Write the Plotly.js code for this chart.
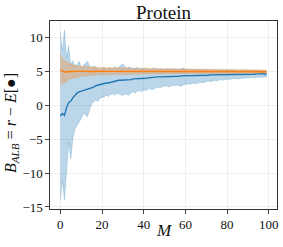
<!DOCTYPE html>
<html><head><meta charset="utf-8">
<script src="https://cdn.plot.ly/plotly-3.0.1.min.js"></script>
<style>html,body{margin:0;padding:0;background:#fff}#g{width:283px;height:247px}</style>
</head><body><div id="g"></div>
<script>
const M = [0,1,2,3,4,5,6,7,8,9,10,11,12,13,14,15,16,17,18,19,20,21,22,23,24,25,26,27,28,29,30,31,32,33,34,35,36,37,38,39,40,41,42,43,44,45,46,47,48,49,50,51,52,53,54,55,56,57,58,59,60,61,62,63,64,65,66,67,68,69,70,71,72,73,74,75,76,77,78,79,80,81,82,83,84,85,86,87,88,89,90,91,92,93,94,95,96,97,98,99];

const blueMean = [-1.6,-1.2,-1.5,-0.3,0.4,0.6,1.1,1.5,1.8,2.0,
2.1,2.2,2.3,2.3,2.4,2.5,2.7,2.9,3.0,3.1,
3.2,3.2,3.3,3.3,3.4,3.5,3.5,3.6,3.7,3.7,
3.7,3.8,3.8,3.8,3.8,3.9,3.9,3.9,4.0,4.0,
4.0,4.0,4.05,4.1,4.1,4.15,4.15,4.2,4.2,4.2,
4.2,4.25,4.25,4.25,4.3,4.3,4.3,4.3,4.35,4.35,
4.35,4.35,4.4,4.4,4.4,4.4,4.4,4.45,4.45,4.45,
4.45,4.45,4.5,4.5,4.5,4.5,4.5,4.5,4.55,4.55,
4.55,4.55,4.55,4.55,4.6,4.6,4.6,4.6,4.6,4.6,
4.6,4.6,4.6,4.6,4.65,4.6,4.65,4.7,4.65,4.55];

const blueUpper = [10.8,8.0,11.1,7.0,8.8,6.0,6.6,5.8,6.0,6.5,
5.6,5.8,6.2,6.5,5.8,5.5,5.8,5.6,5.5,5.4,
5.5,5.6,5.4,5.5,5.6,5.4,5.7,5.5,5.6,5.9,
6.1,5.7,5.5,5.7,5.5,5.4,5.5,5.6,5.4,5.5,
5.4,5.5,5.4,5.3,5.4,5.5,5.4,5.3,5.4,5.3,
5.3,5.4,5.3,5.3,5.4,5.3,5.3,5.3,5.4,5.5,
5.3,5.3,5.2,5.3,5.3,5.2,5.3,5.2,5.2,5.3,
5.2,5.2,5.2,5.3,5.2,5.2,5.2,5.2,5.2,5.2,
5.2,5.3,5.2,5.2,5.2,5.1,5.2,5.2,5.2,5.1,
5.2,5.1,5.2,5.2,5.1,5.2,5.1,5.2,5.1,5.1];

const blueLower = [-13.9,-11.0,-14.0,-9.0,-5.4,-7.9,-5.0,-3.5,-3.0,-2.5,
-2.0,-1.2,-1.3,-1.7,-0.6,0.2,0.5,0.8,0.6,1.1,
1.2,1.2,1.5,1.3,1.6,1.7,1.5,1.8,1.7,1.5,
1.4,1.7,1.6,1.5,1.9,2.0,1.8,2.1,2.2,2.0,
2.3,2.2,2.4,2.5,2.3,2.5,2.6,2.7,2.6,2.8,
2.8,2.9,2.7,2.9,3.0,2.9,3.0,2.9,2.8,3.0,
3.1,3.2,3.1,3.2,3.3,3.2,3.3,3.4,3.3,3.4,
3.5,3.6,3.5,3.6,3.7,3.6,3.7,3.8,3.7,3.8,
3.9,3.8,3.9,3.9,4.0,3.9,3.9,4.0,4.0,4.1,
4.0,4.1,4.1,4.0,4.1,4.2,4.1,4.2,4.2,4.2];

const orangeMean = [5.25,5.1,4.9,4.95,5.0,5.0,5.0,5.02,5.0,5.0,
5.01,5.0,5.02,5.01,5.0,5.02,5.03,5.02,5.02,5.03,
5.03,5.04,5.03,5.03,5.04,5.04,5.03,5.04,5.04,5.04,
5.04,5.04,5.03,5.04,5.04,5.03,5.03,5.04,5.03,5.03,
5.03,5.03,5.02,5.03,5.03,5.02,5.02,5.02,5.02,5.02,
5.02,5.02,5.02,5.01,5.02,5.02,5.01,5.01,5.01,5.01,
5.01,5.0,5.0,5.0,5.0,5.0,5.0,5.0,5.0,5.0,
4.99,4.99,4.99,4.99,4.99,4.99,4.99,4.99,4.99,4.99,
4.98,4.98,4.98,4.98,4.98,4.98,4.98,4.98,4.98,4.98,
4.97,4.97,4.97,4.97,4.97,4.97,4.97,4.97,4.97,4.97];

const orangeUpper = [7.6,6.9,6.6,6.4,6.2,6.1,6.0,5.9,5.85,5.8,
5.75,5.75,5.7,5.7,5.7,5.65,5.65,5.65,5.6,5.6,
5.6,5.6,5.55,5.55,5.55,5.55,5.5,5.5,5.5,5.5,
5.5,5.5,5.48,5.48,5.47,5.47,5.46,5.46,5.45,5.45,
5.45,5.44,5.44,5.43,5.43,5.42,5.42,5.42,5.41,5.41,
5.4,5.4,5.4,5.4,5.39,5.39,5.39,5.39,5.38,5.38,
5.38,5.37,5.37,5.37,5.36,5.36,5.36,5.35,5.35,5.35,
5.34,5.34,5.33,5.33,5.32,5.32,5.31,5.31,5.3,5.3,
5.3,5.3,5.29,5.29,5.29,5.28,5.28,5.28,5.27,5.27,
5.26,5.26,5.25,5.25,5.25,5.24,5.24,5.24,5.23,5.23];

const orangeLower = [2.9,3.3,3.3,3.6,3.8,3.9,4.0,4.1,4.2,4.3,
4.3,4.35,4.35,4.4,4.4,4.45,4.45,4.5,4.5,4.5,
4.5,4.52,4.52,4.53,4.54,4.55,4.55,4.56,4.56,4.57,
4.57,4.58,4.58,4.59,4.59,4.6,4.6,4.6,4.61,4.61,
4.62,4.62,4.62,4.63,4.63,4.63,4.64,4.64,4.64,4.65,
4.65,4.65,4.65,4.65,4.65,4.66,4.66,4.66,4.66,4.66,
4.66,4.66,4.67,4.67,4.67,4.67,4.67,4.68,4.68,4.68,
4.68,4.68,4.69,4.69,4.69,4.69,4.7,4.7,4.7,4.7,
4.7,4.7,4.71,4.71,4.71,4.71,4.71,4.72,4.72,4.72,
4.72,4.72,4.73,4.73,4.73,4.73,4.74,4.74,4.74,4.74];

const xTicks = [0,20,40,60,80,100];
const yTicks = [-15,-10,-5,0,5,10];
const titleText = 'Protein';
const xTitle = '<i>M</i>';
const yTitle = '<i>B</i><sub><i>ALB</i></sub> = <i>r</i> − <i>E</i>[●]';

const BLUE = '#1f77b4', ORANGE = '#ff7f0e';
const BFILL = 'rgba(31,119,180,0.3)', OFILL = 'rgba(255,127,14,0.3)';

const traces = [
  {x:M, y:blueLower, type:'scatter', mode:'lines', line:{width:0.6, color:'rgba(31,119,180,0.35)'}, hoverinfo:'skip', showlegend:false},
  {x:M, y:blueUpper, type:'scatter', mode:'lines', fill:'tonexty', fillcolor:BFILL, line:{width:0.6, color:'rgba(31,119,180,0.35)'}, hoverinfo:'skip', showlegend:false},
  {x:M, y:blueMean, type:'scatter', mode:'lines', line:{width:1.4, color:BLUE}, showlegend:false},
  {x:M, y:orangeLower, type:'scatter', mode:'lines', line:{width:0.6, color:'rgba(255,127,14,0.35)'}, hoverinfo:'skip', showlegend:false},
  {x:M, y:orangeUpper, type:'scatter', mode:'lines', fill:'tonexty', fillcolor:OFILL, line:{width:0.6, color:'rgba(255,127,14,0.35)'}, hoverinfo:'skip', showlegend:false},
  {x:M, y:orangeMean, type:'scatter', mode:'lines', line:{width:1.4, color:ORANGE}, showlegend:false}
];

const FONT = '"Liberation Serif", serif';
const axisCommon = {
  showline:true, linecolor:'#333', linewidth:1.1, mirror:true,
  showgrid:true, gridcolor:'#ebebeb', gridwidth:0.8,
  zeroline:false, ticks:'outside', ticklen:3.5, tickwidth:0.9, tickcolor:'#333',
  tickfont:{family:FONT, size:13, color:'#111'}
};

const layout = {
  width:283, height:247,
  margin:{l:50, r:6, t:21, b:38, pad:0},
  paper_bgcolor:'#fff', plot_bgcolor:'#fff',
  font:{family:FONT, color:'#111', size:13},
  title:{text:titleText, font:{family:FONT, size:19, color:'#111'}, x:0.5, xref:'paper', xanchor:'center', y:0.952, yref:'container', yanchor:'middle'},
  xaxis:Object.assign({}, axisCommon, {range:[-4.95, 103.95], tickvals:xTicks, ticktext:xTicks.map(String)}),
  yaxis:Object.assign({}, axisCommon, {range:[-15.3, 12.45], tickvals:yTicks}),
  annotations:[
    {text:xTitle, xref:'paper', yref:'paper', x:0.5, y:-0.117, xanchor:'center', yanchor:'middle', showarrow:false, font:{family:FONT, size:17, color:'#111'}},
    {text:yTitle, xref:'paper', yref:'paper', x:-0.172, y:0.457, xanchor:'center', yanchor:'middle', textangle:-90, showarrow:false, font:{family:FONT, size:16, color:'#111'}}
  ],
  showlegend:false
};

Plotly.newPlot('g', traces, layout, {staticPlot:true, displayModeBar:false});
</script>
</body></html>
